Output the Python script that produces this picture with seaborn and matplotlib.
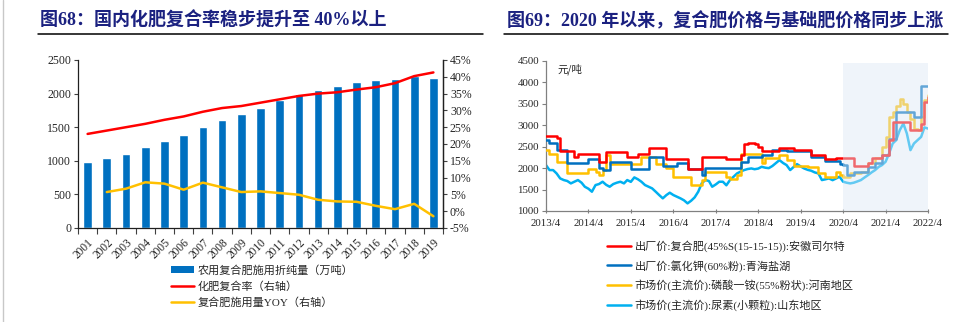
import numpy as np
import pandas as pd
import matplotlib
matplotlib.use('Agg')
import matplotlib.pyplot as plt
import seaborn as sns
from matplotlib.lines import Line2D
from matplotlib.patches import Patch

# ---------------- data: left chart ----------------
years = ['2001', '2002', '2003', '2004', '2005', '2006', '2007', '2008', '2009', '2010',
         '2011', '2012', '2013', '2014', '2015', '2016', '2017', '2018', '2019']
amount = [980, 1040, 1104, 1203, 1302, 1381, 1500, 1609, 1698, 1792,
          1901, 1995, 2054, 2119, 2173, 2203, 2218, 2267, 2228]
rate = [23.0, 24.0, 25.0, 26.0, 27.2, 28.2, 29.6, 30.7, 31.3, 32.3,
        33.3, 34.3, 35.0, 35.4, 36.2, 36.9, 38.1, 40.2, 41.3]
yoy_years = years[1:]
yoy = [5.7, 6.7, 8.6, 8.2, 6.4, 8.5, 7.1, 5.7, 5.9, 5.4,
       4.9, 3.4, 2.9, 2.8, 1.6, 0.6, 2.2, -1.5]
left_labels = ['农用复合肥施用折纯量（万吨）', '化肥复合率（右轴）', '复合肥施用量YOY（右轴）']
left_pct_ticks = [-5, 0, 5, 10, 15, 20, 25, 30, 35, 40, 45]

# ---------------- data: right chart (monthly, from 2013/4) ----------------
start_month = '2013-04-01'
compound = [2750, 2750, 2750, 2700, 2400, 2400, 2400, 2400, 2270, 2320,
            2320, 2320, 2320, 2320, 2320, 2150, 2150, 2370, 2370, 2370,
            2370, 2370, 2370, 2270, 2270, 2270, 2340, 2340, 2340, 2460,
            2460, 2460, 2460, 2460, 2210, 2210, 2210, 2210, 2210, 2210,
            1990, 1990, 1990, 1990, 2250, 2250, 2250, 2250, 2250, 2250,
            2250, 2210, 2210, 2210, 2210, 2300, 2560, 2575, 2575, 2560,
            2500, 2400, 2400, 2400, 2400, 2400, 2480, 2480, 2480, 2480,
            2420, 2420, 2420, 2420, 2420, 2300, 2300, 2300, 2300, 2215,
            2215, 2215, 2225, 2225, 2225, 2225, 2225, 2040, 2040, 2040,
            2040, 2110, 2225, 2225, 2225, 2300, 2300, 2650, 3080, 3080,
            3080, 3080, 3080, 2890, 2890, 2890, 3040, 3550, 3660]
potash = [2650, 2575, 2575, 2420, 2420, 2420, 2110, 2110, 2110, 2110,
          2110, 2110, 2210, 2210, 2210, 2010, 1960, 1960, 2150, 2150,
          2150, 2150, 2150, 2150, 1970, 1970, 1970, 1970, 1970, 2265,
          2265, 2265, 2265, 2060, 2060, 2060, 2060, 2120, 2120, 2120,
          1970, 1970, 1970, 1970, 1840, 1995, 1995, 1995, 1995, 1995,
          1995, 1995, 1995, 1995, 1995, 2150, 2150, 2265, 2265, 2265,
          2265, 2300, 2300, 2300, 2420, 2420, 2420, 2420, 2405, 2405,
          2405, 2405, 2405, 2405, 2405, 2265, 2265, 2265, 2265, 2160,
          2160, 2160, 2160, 2100, 2071, 1840, 1840, 1916, 1916, 1916,
          1916, 2032, 2032, 2110, 2110, 2300, 2300, 2680, 2680, 3300,
          3300, 3300, 3300, 3300, 3200, 3200, 3920, 3920, 3920]
map_price = [2420, 2340, 2340, 2150, 2150, 2150, 1890, 1890, 1890, 1890,
             1890, 1890, 1990, 1990, 1900, 1840, 1955, 2300, 2100, 2100,
             2100, 2100, 2100, 2100, 2100, 2100, 2100, 2255, 2255, 2255,
             2255, 2090, 2090, 2090, 1995, 1995, 1800, 1800, 1800, 1800,
             1800, 1600, 1600, 1600, 1720, 1916, 1916, 1916, 1916, 1916,
             1916, 1800, 1740, 1740, 1840, 2340, 2340, 2340, 2340, 2340,
             2340, 2125, 2226, 2226, 2226, 2226, 2300, 2300, 2187, 2187,
             2048, 2048, 2048, 2048, 2032, 2032, 2032, 1877, 1877, 1790,
             1790, 1790, 1916, 1840, 1800, 1800, 1877, 1877, 1877, 1916,
             1916, 2110, 2110, 2226, 2226, 2500, 2730, 3196, 3312, 3450,
             3623, 3506, 3300, 3157, 2924, 2886, 3196, 3584, 3700]
urea = [2071, 1955, 1955, 1877, 1760, 1722, 1700, 1644, 1683, 1722,
        1660, 1566, 1520, 1450, 1605, 1629, 1683, 1610, 1566, 1629,
        1660, 1683, 1644, 1722, 1680, 1784, 1740, 1683, 1605, 1566,
        1528, 1450, 1372, 1295, 1372, 1427, 1372, 1334, 1295, 1250,
        1178, 1240, 1318, 1450, 1644, 1722, 1700, 1566, 1620, 1683,
        1683, 1600, 1722, 1800, 1877, 1920, 1955, 1980, 1993, 1975,
        1990, 2032, 2010, 2000, 2050, 2120, 2187, 2120, 2071, 1955,
        2030, 2094, 2040, 1993, 1960, 1939, 1900, 1877, 1722, 1740,
        1760, 1720, 1760, 1800, 1683, 1660, 1644, 1660, 1690, 1722,
        1780, 1838, 1900, 1955, 2030, 2071, 2149, 2342, 2575, 2653,
        2886, 3040, 2808, 2420, 2575, 2653, 2730, 2950, 2924]
right_labels = ['出厂价:复合肥(45%S(15-15-15)):安徽司尔特',
                '出厂价:氯化钾(60%粉):青海盐湖',
                '市场价(主流价):磷酸一铵(55%粉状):河南地区',
                '市场价(主流价):尿素(小颗粒):山东地区']
date_tick_labels = ['2013/4', '2014/4', '2015/4', '2016/4', '2017/4',
                    '2018/4', '2019/4', '2020/4', '2021/4', '2022/4']
shade_start, shade_end = '2020-04-01', '2022-04-01'

title_left = '图68：国内化肥复合率稳步提升至 40%以上'
title_right = '图69：2020 年以来，复合肥价格与基础肥价格同步上涨'

# ---------------- style ----------------
sns.set_theme(style='white')
plt.rcParams['font.family'] = ['Liberation Serif', 'Noto Sans CJK SC']
plt.rcParams['axes.unicode_minus'] = False

C_BAR = '#0070c0'
C_RED = '#ff0000'
C_YEL = '#ffc000'
C_BLUE = '#0070c0'
C_LBLUE = '#00b0f0'
C_TITLE = '#1b2180'

W, H = 971, 322
fig = plt.figure(figsize=(W / 100, H / 100), dpi=100)


def rect(l, t, r, b):
    return [l / W, 1 - b / H, (r - l) / W, (b - t) / H]


# ---------------- left chart ----------------
ax1 = fig.add_axes(rect(78, 60, 443, 228))
xpos = np.arange(len(years))
sns.barplot(x=xpos, y=amount, native_scale=True, width=0.45, color=C_BAR,
            saturation=1, ax=ax1, zorder=2)
ax1.set_xlim(-0.5, len(years) - 0.5)
ax1.set_ylim(0, 2500)
ax1.set_yticks([0, 500, 1000, 1500, 2000, 2500])
ax1.set_yticklabels(['0', '500', '1000', '1500', '2000', '2500'], fontsize=8.5)
ax1.set_xticks(xpos)
ax1.set_xticklabels(years, rotation=45, ha='right', rotation_mode='anchor', fontsize=8.3)
ax1.set_xticks(np.arange(-0.5, len(years)), minor=True)
ax1.tick_params(axis='x', which='major', length=0, pad=6)
ax1.tick_params(axis='x', which='minor', length=4, width=0.8, color='#404040', direction='out', bottom=True)
ax1.tick_params(axis='y', length=3, width=0.8, color='#404040', direction='out', left=True, pad=2)
ax1.set_xlabel('')
ax1.set_ylabel('')
for s in ['left', 'bottom', 'right']:
    ax1.spines[s].set_color('#202020')
    ax1.spines[s].set_linewidth(0.9)
ax1.spines['top'].set_visible(False)

ax2 = ax1.twinx()
yoy_pos = np.arange(1, len(years))
sns.lineplot(x=xpos, y=rate, color=C_RED, lw=1.8, ax=ax2)
sns.lineplot(x=yoy_pos, y=yoy, color=C_YEL, lw=1.8, ax=ax2)
ax2.set_ylim(-5, 45)
ax2.set_yticks(left_pct_ticks)
ax2.set_yticklabels([f'{v}%' for v in left_pct_ticks], fontsize=8.5)
ax2.tick_params(axis='y', length=3, width=0.8, color='#404040', direction='out', right=True, pad=2)
ax2.set_xlim(-0.5, len(years) - 0.5)
ax2.set_ylabel('')
ax2.set_xlabel('')
ax2.spines['top'].set_visible(False)
ax2.spines['right'].set_color('#202020')
ax2.spines['right'].set_linewidth(0.9)
ax2.spines['left'].set_visible(False)
ax2.spines['bottom'].set_visible(False)

h_left = [Patch(facecolor=C_BAR, edgecolor='none'),
          Line2D([], [], color=C_RED, lw=1.8),
          Line2D([], [], color=C_YEL, lw=1.8)]
fig.legend(h_left, left_labels, loc='upper left', bbox_to_anchor=(171 / W, 1 - 265 / H),
           frameon=False, fontsize=8, handlelength=2.1, handleheight=0.6,
           labelspacing=0.5, handletextpad=0.3, borderpad=0, borderaxespad=0)

# ---------------- right chart ----------------
ax3 = fig.add_axes(rect(546, 61, 928, 211))
dates = pd.date_range(start_month, periods=len(compound), freq='MS')
sns.lineplot(x=dates, y=urea, color=C_LBLUE, lw=1.8, ax=ax3, zorder=2)
sns.lineplot(x=dates, y=map_price, color=C_YEL, lw=1.8, drawstyle='steps-post', ax=ax3, zorder=3)
sns.lineplot(x=dates, y=potash, color=C_BLUE, lw=1.8, drawstyle='steps-post', ax=ax3, zorder=4)
sns.lineplot(x=dates, y=compound, color=C_RED, lw=1.8, drawstyle='steps-post', ax=ax3, zorder=5)
ax3.set_ylim(1000, 4500)
ax3.set_xlim(pd.Timestamp(start_month), pd.Timestamp(shade_end))
ax3.axvspan(pd.Timestamp(shade_start), pd.Timestamp(shade_end), ymin=0, ymax=(4455 - 1000) / 3500,
            color='#dce8f5', alpha=0.45, lw=0, zorder=6)
ax3.set_yticks([1000, 1500, 2000, 2500, 3000, 3500, 4000, 4500])
ax3.set_yticklabels(['1000', '1500', '2000', '2500', '3000', '3500', '4000', '4500'], fontsize=7.8)
tick_dates = pd.date_range(start_month, shade_end, freq='12MS')
ax3.set_xticks(tick_dates)
ax3.set_xticklabels(date_tick_labels, fontsize=7.8)
ax3.tick_params(axis='x', length=3, width=0.8, color='#808080', direction='inout', bottom=True, pad=4)
ax3.tick_params(axis='y', length=3, width=0.8, color='#808080', direction='out', left=True, pad=2)
ax3.set_xlabel('')
ax3.set_ylabel('')
for s in ['top', 'right']:
    ax3.spines[s].set_visible(False)
for s in ['left', 'bottom']:
    ax3.spines[s].set_color('#808080')
    ax3.spines[s].set_linewidth(0.9)
ax3.text(0.03, 0.945, '元/吨', transform=ax3.transAxes, va='center', ha='left', fontsize=7.5,
         family=['Noto Sans CJK SC', 'DejaVu Sans'])

h_right = [Line2D([], [], color=c, lw=1.8) for c in [C_RED, C_BLUE, C_YEL, C_LBLUE]]
fig.legend(h_right, right_labels, loc='upper left', bbox_to_anchor=(607 / W, 1 - 240 / H),
           frameon=False, fontsize=8, handlelength=2.2, labelspacing=0.72,
           handletextpad=0.3, borderpad=0, borderaxespad=0)

# ---------------- titles and decorations ----------------
fig.text(40 / W, 1 - 21 / H, title_left, fontsize=13, fontweight='bold', color=C_TITLE,
         va='center', ha='left')
fig.text(507 / W, 1 - 21 / H, title_right, fontsize=13, fontweight='bold', color=C_TITLE,
         va='center', ha='left')
fig.add_artist(Line2D([38 / W, 483 / W], [1 - 33.5 / H, 1 - 33.5 / H], color='black', lw=1.1))
fig.add_artist(Line2D([504 / W, 948 / W], [1 - 33.5 / H, 1 - 33.5 / H], color='black', lw=1.1))
fig.add_artist(Line2D([2.5 / W, 2.5 / W], [0, 1], color='#c8c8c8', lw=1.0))

fig.savefig('out.png', dpi=100)
